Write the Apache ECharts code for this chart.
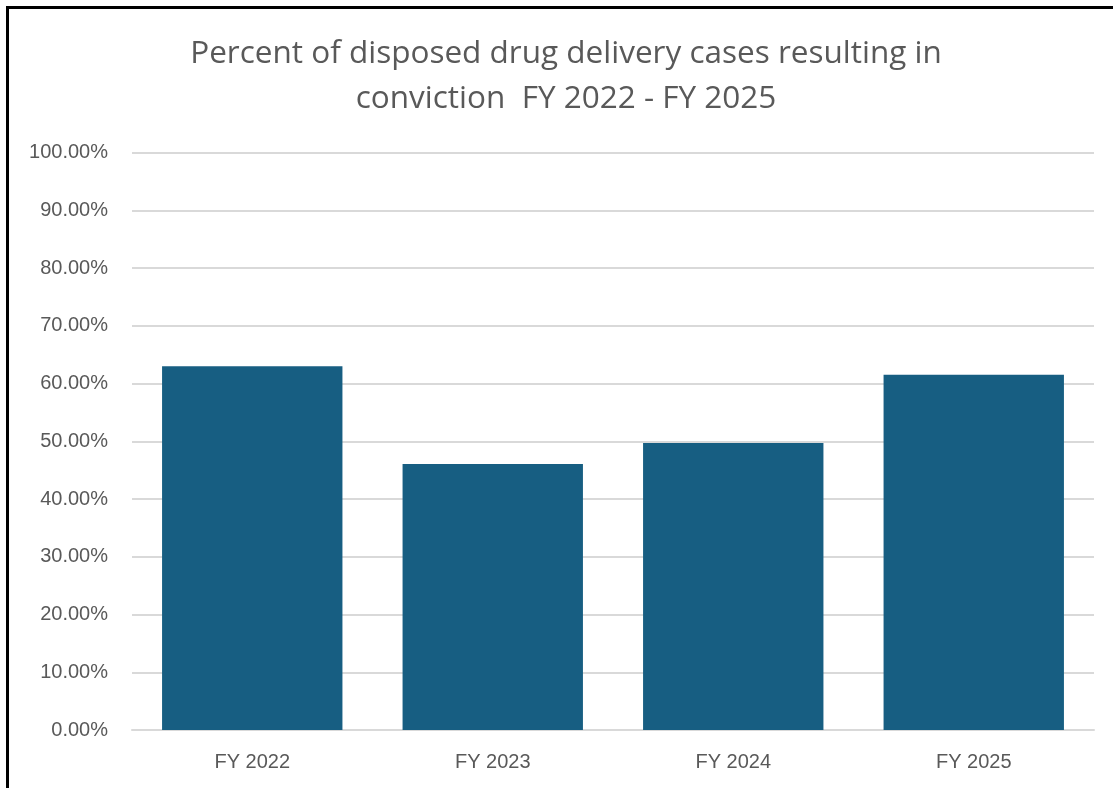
<!doctype html>
<html>
    <head>
        <meta charset="utf-8">
        <style>
            html, body { margin: 0; padding: 0; background: #fff; }
            #main { position: absolute; left: 0; top: 0; width: 1113px; height: 788px; }
            #frame {
                position: absolute; left: 6px; top: 6px; right: -10px; bottom: -10px;
                border-left: 3px solid #000; border-top: 3px solid #000;
                pointer-events: none;
            }
        </style>
    </head>
    <body>
        <div id="main"></div>
        <div id="frame"></div>
        <script src="https://cdn.jsdelivr.net/npm/echarts@6/dist/echarts.min.js"></script>
        <script>
            var categories = ['FY 2022', 'FY 2023', 'FY 2024', 'FY 2025'];
            var convictionPct = [63.0, 46.05, 49.7, 61.5];
            var yTicks = [0, 10, 20, 30, 40, 50, 60, 70, 80, 90, 100];

            var chart = echarts.init(document.getElementById('main'));

            chart.setOption({
                animation: false,
                title: {
                    text: 'Percent of disposed drug delivery cases resulting in\nconviction  FY 2022 - FY 2025',
                    left: 561,
                    textAlign: 'center',
                    top: 27,
                    textStyle: {
                        fontFamily: 'Open Sans',
                        fontSize: 31.5,
                        fontWeight: 'normal',
                        color: '#595959',
                        lineHeight: 45
                    }
                },
                grid: {
                    left: 132,
                    right: 19,
                    top: 152.5,
                    bottom: 58
                },
                xAxis: {
                    type: 'category',
                    data: categories,
                    axisLine: { lineStyle: { color: '#d9d9d9', width: 2 } },
                    axisTick: { show: false },
                    axisLabel: {
                        margin: 22,
                        fontFamily: 'Liberation Sans',
                        fontSize: 20,
                        color: '#595959'
                    }
                },
                yAxis: {
                    type: 'value',
                    min: yTicks[0],
                    max: yTicks[yTicks.length - 1],
                    interval: 10,
                    axisLine: { show: false },
                    axisTick: { show: false },
                    splitLine: { lineStyle: { color: '#d9d9d9', width: 2 } },
                    axisLabel: {
                        margin: 24,
                        fontFamily: 'Liberation Sans',
                        fontSize: 20,
                        color: '#595959',
                        formatter: function (v) { return v.toFixed(2) + '%'; }
                    }
                },
                series: [{
                    type: 'bar',
                    data: convictionPct,
                    barWidth: '75%',
                    itemStyle: { color: '#175E82' }
                }]
            });
        </script>
    </body>
</html>
